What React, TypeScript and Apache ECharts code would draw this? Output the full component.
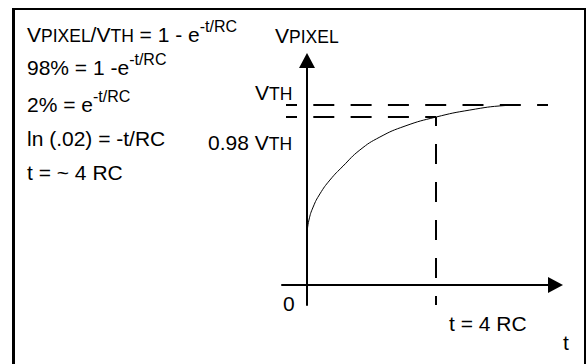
import React, { useEffect, useRef } from "react";
import * as echarts from "echarts";

// ---- data (t in RC units, V in units of VTH on a schematic scale) ----
const curveT = [0, 0.06, 0.19, 0.4, 0.71, 1.12, 1.64, 2.26, 3.04, 4.0, 5.05, 6.14, 6.6];
const curveV = [0.289, 0.361, 0.433, 0.506, 0.583, 0.661, 0.75, 0.822, 0.883, 0.933, 0.972, 0.997, 1.0];
const vthLevel = 1.0; // VTH
const nearLevel = 0.933; // 0.98 VTH (schematic position)
const tMark = 4; // t = 4 RC
const dashStartT = -0.651;
const vthDashEndT = 7.473;
const axisRangeT = [-0.7752, 7.7054];
const axisRangeV = [-0.1111, 1.2472];

const formulaLines = [
  "{b|V}{s|PIXEL}{b|/V}{s|TH}{b| = 1 - e}{p|-t/RC}",
  "{b|98% = 1 -e}{p|-t/RC}",
  "{b|2% = e}{p|-t/RC}",
  "{b|ln (.02) = -t/RC}",
  "{b|t = ~ 4 RC}",
];
const labelTexts = [
  "{b|V}{s|PIXEL}",
  "{b|V}{s|TH}",
  "{b|0.98 V}{s|TH}",
  "{b|0}",
  "{b|t = 4 RC}",
  "{b|t}",
];

const FONT = '"Liberation Sans", Arial, Helvetica, sans-serif';
const rich = {
  b: { fontSize: 21, lineHeight: 26, fontFamily: FONT, color: "#000", verticalAlign: "bottom" },
  s: { fontSize: 17.5, lineHeight: 23.6, fontFamily: FONT, color: "#000", verticalAlign: "bottom" },
  p: { fontSize: 16, fontFamily: FONT, color: "#000", verticalAlign: "top" },
};

export default function App() {
  const ref = useRef<HTMLDivElement>(null);
  useEffect(() => {
    if (!ref.current) return;
    const chart = echarts.init(ref.current, null, { renderer: "svg" });

    const formulaBaselines = [39, 72, 109, 143, 177];
    const labelPos = [
      [275, 40],
      [255, 97],
      [208, 147],
      [283, 308],
      [449, 328],
      [563, 347],
    ];
    const asc = 20.3;

    const texts: any[] = [];
    formulaLines.forEach((t, i) => {
      texts.push({
        type: "text",
        x: 27,
        y: formulaBaselines[i] - asc,
        style: { text: t, rich, verticalAlign: "top", align: "left" },
      });
    });
    labelTexts.forEach((t, i) => {
      texts.push({
        type: "text",
        x: labelPos[i][0],
        y: labelPos[i][1] - asc,
        style: { text: t, rich, verticalAlign: "top", align: "left" },
      });
    });

    const frame = [
      { type: "line", shape: { x1: 13.5, y1: 8, x2: 13.5, y2: 364 }, style: { stroke: "#000", lineWidth: 3 } },
      { type: "line", shape: { x1: 12, y1: 9, x2: 586, y2: 9 }, style: { stroke: "#000", lineWidth: 2 } },
      { type: "line", shape: { x1: 585, y1: 8, x2: 585, y2: 364 }, style: { stroke: "#000", lineWidth: 2 } },
    ];

    const dashed = (data: number[][], offset: number, pattern: number[]) => ({
      type: "line",
      data,
      showSymbol: false,
      symbol: "none",
      silent: true,
      lineStyle: { color: "#000", width: 2, type: pattern, dashOffset: offset },
      z: 3,
    });

    chart.setOption({
      animation: false,
      backgroundColor: "#fff",
      grid: { left: 282, right: 588 - 555.5, top: 60.5, bottom: 364 - 305, containLabel: false },
      xAxis: {
        type: "value",
        min: axisRangeT[0],
        max: axisRangeT[1],
        axisLine: {
          show: true,
          onZero: true,
          symbol: ["none", "triangle"],
          symbolSize: [16, 15],
          lineStyle: { color: "#000", width: 2 },
        },
        axisTick: { show: false },
        axisLabel: { show: false },
        splitLine: { show: false },
      },
      yAxis: {
        type: "value",
        min: axisRangeV[0],
        max: axisRangeV[1],
        axisLine: {
          show: true,
          onZero: true,
          symbol: ["none", "triangle"],
          symbolSize: [16, 15],
          lineStyle: { color: "#000", width: 2 },
        },
        axisTick: { show: false },
        axisLabel: { show: false },
        splitLine: { show: false },
      },
      series: [
        {
          type: "line",
          data: curveT.map((t, i) => [t, curveV[i]]),
          smooth: 0.5,
          showSymbol: false,
          symbol: "none",
          lineStyle: { color: "#000", width: 1 },
          z: 4,
        },
        dashed([[dashStartT, vthLevel], [vthDashEndT, vthLevel]], 10.3, [21, 16.3]),
        dashed([[dashStartT, nearLevel], [tMark, nearLevel]], 10.3, [21, 16.3]),
        dashed([[tMark, nearLevel], [tMark, axisRangeV[0]]], 11, [20, 18]),
      ],
      graphic: [...frame, ...texts],
    });
    return () => chart.dispose();
  }, []);
  return (
    <div
      ref={ref}
      style={{ position: "absolute", left: 0, top: 0, width: 588, height: 364, background: "#fff" }}
    />
  );
}
